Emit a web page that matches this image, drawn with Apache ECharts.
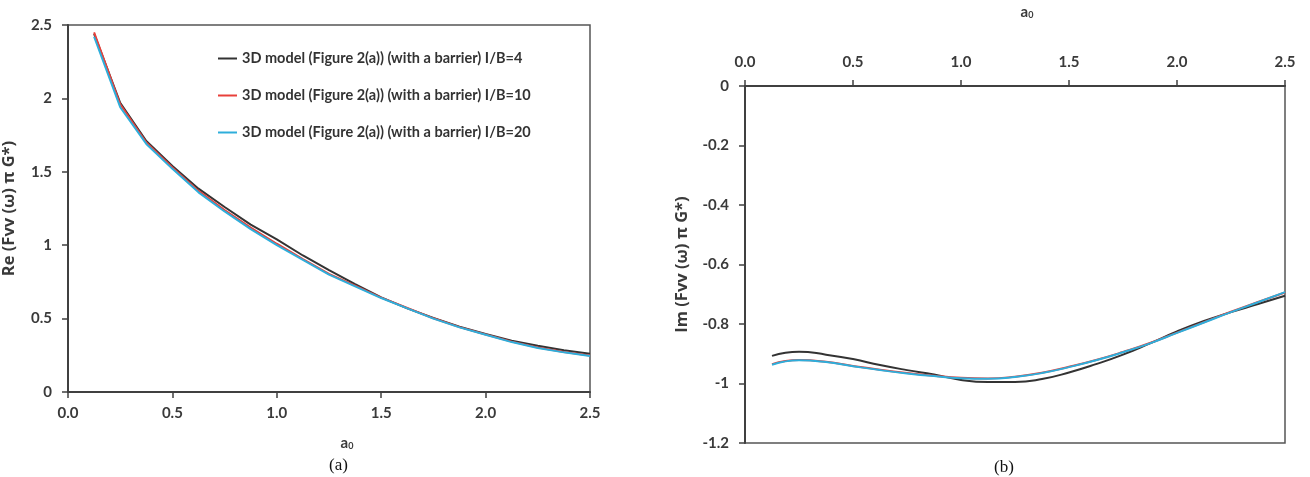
<!DOCTYPE html>
<html>
<head>
<meta charset="utf-8">
<script src="https://cdn.jsdelivr.net/npm/echarts@6/dist/echarts.min.js"></script>
<style>
  html, body { margin: 0; padding: 0; background: #fff; }
  #main { width: 1310px; height: 477px; }
</style>
</head>
<body>
<div id="main"></div>
<script>
// a0 values shared by every curve
var a0 = [0.125, 0.25, 0.375, 0.5, 0.625, 0.75, 0.875, 1.0, 1.125, 1.25,
          1.375, 1.5, 1.625, 1.75, 1.875, 2.0, 2.125, 2.25, 2.375, 2.5];

var seriesNames = [
  '3D model (Figure 2(a)) (with a barrier) I/B=4',
  '3D model (Figure 2(a)) (with a barrier) I/B=10',
  '3D model (Figure 2(a)) (with a barrier) I/B=20'
];

// (a) real part
var reB4  = [2.44, 1.97, 1.71, 1.54, 1.385, 1.26, 1.14, 1.04, 0.93, 0.83,
             0.735, 0.645, 0.57, 0.505, 0.445, 0.395, 0.35, 0.315, 0.285, 0.26];
var reB10 = [2.45, 1.96, 1.70, 1.53, 1.37, 1.24, 1.12, 1.01, 0.905, 0.805,
             0.725, 0.643, 0.572, 0.502, 0.442, 0.392, 0.343, 0.303, 0.272, 0.248];
var reB20 = [2.42, 1.94, 1.69, 1.52, 1.36, 1.23, 1.11, 1.00, 0.90, 0.80,
             0.72, 0.64, 0.57, 0.50, 0.44, 0.39, 0.34, 0.30, 0.27, 0.245];

// (b) imaginary part
var imB4  = [-0.907, -0.893, -0.903, -0.918, -0.938, -0.955, -0.97, -0.988, -0.995, -0.995,
             -0.985, -0.963, -0.935, -0.903, -0.865, -0.825, -0.79, -0.76, -0.733, -0.705];
var imB10 = [-0.935, -0.921, -0.927, -0.941, -0.954, -0.965, -0.974, -0.981, -0.983, -0.977,
             -0.964, -0.944, -0.921, -0.894, -0.864, -0.829, -0.794, -0.759, -0.726, -0.694];
var imB20 = [-0.937, -0.922, -0.928, -0.942, -0.955, -0.966, -0.975, -0.982, -0.984, -0.978,
             -0.965, -0.945, -0.922, -0.895, -0.865, -0.83, -0.795, -0.76, -0.727, -0.693];

var colors = ['#333333', '#e8403a', '#2eaedb'];

function pairs(xs, ys) {
  return xs.map(function (x, i) { return [x, ys[i]]; });
}

var font = 'Lato, "Open Sans", sans-serif';
var nameFont = '"Open Sans", Lato, sans-serif';
var axisCol = '#404040';

var axisCommon = {
  splitLine: { show: false },
  axisLine: { show: true, onZero: false, lineStyle: { color: axisCol, width: 2 } },
  axisTick: { show: true, length: 6, lineStyle: { color: axisCol, width: 1.5 } },
  axisLabel: { color: '#3a3a3a', fontFamily: font, fontWeight: 'bold', fontSize: 15 }
};

function axis(extra) {
  return echarts.util.merge(echarts.util.clone(axisCommon), extra, true);
}

var a0Name = '{a|a}{s|0}';
var a0Rich = {
  a: { fontFamily: font, fontWeight: 'bold', fontSize: 15, color: '#3a3a3a' },
  s: { fontFamily: font, fontWeight: 'bold', fontSize: 9, color: '#3a3a3a', verticalAlign: 'bottom', padding: [4, 0, 0, 0] }
};

function line(name, data, color, xi, smooth) {
  return {
    name: name,
    type: 'line',
    xAxisIndex: xi,
    yAxisIndex: xi,
    data: data,
    symbol: 'none',
    smooth: smooth,
    lineStyle: { color: color, width: 2 },
    itemStyle: { color: color }
  };
}

var option = {
  animation: false,
  title: [
    { text: '(a)', left: 324, top: 452, textStyle: { fontFamily: '"Liberation Serif", serif', fontWeight: 'normal', fontSize: 17, color: '#111' } },
    { text: '(b)', left: 989, top: 454, textStyle: { fontFamily: '"Liberation Serif", serif', fontWeight: 'normal', fontSize: 17, color: '#111' } }
  ],
  legend: {
    data: seriesNames,
    orient: 'vertical',
    left: 213,
    top: 46,
    icon: 'rect',
    itemWidth: 19,
    itemHeight: 2,
    itemGap: 22,
    textStyle: { fontFamily: font, fontWeight: 'bold', fontSize: 14.5, color: '#333' }
  },
  grid: [
    { left: 68, top: 25, right: 720, bottom: 85, show: true, borderColor: '#555', borderWidth: 1.5 },
    { left: 745, top: 83, right: 25, bottom: 34, show: true, borderColor: '#555', borderWidth: 1.5 }
  ],
  xAxis: [
    axis({
      type: 'value', gridIndex: 0, min: 0, max: 2.5, interval: 0.5,
      name: a0Name, nameLocation: 'middle', nameGap: 44,
      nameTextStyle: { rich: a0Rich, padding: [0, 0, 0, 36] },
      axisLabel: { margin: 14, formatter: function (v) { return v.toFixed(1); } }
    }),
    axis({
      type: 'value', gridIndex: 1, position: 'top', min: 0, max: 2.5, interval: 0.5,
      name: a0Name, nameLocation: 'middle', nameGap: 66,
      nameTextStyle: { rich: a0Rich, padding: [0, 0, 0, 24] },
      axisLabel: { margin: 16, formatter: function (v) { return v.toFixed(1); } }
    })
  ],
  yAxis: [
    axis({
      type: 'value', gridIndex: 0, min: 0, max: 2.5, interval: 0.5,
      name: 'Re (Fvv (ω) π G*)', nameLocation: 'middle', nameGap: 50,
      nameTextStyle: { fontFamily: nameFont, fontWeight: 'bold', fontSize: 16.5, color: '#3a3a3a' },
      axisLabel: { margin: 16 }
    }),
    axis({
      type: 'value', gridIndex: 1, min: -1.2, max: 0, interval: 0.2,
      name: 'Im (Fvv (ω) π G*)', nameLocation: 'middle', nameGap: 54,
      nameTextStyle: { fontFamily: nameFont, fontWeight: 'bold', fontSize: 16.5, color: '#3a3a3a' },
      axisLabel: { margin: 16 }
    })
  ],
  series: [
    line(seriesNames[0], pairs(a0, reB4), colors[0], 0, false),
    line(seriesNames[1], pairs(a0, reB10), colors[1], 0, false),
    line(seriesNames[2], pairs(a0, reB20), colors[2], 0, false),
    line(seriesNames[0], pairs(a0, imB4), colors[0], 1, true),
    line(seriesNames[1], pairs(a0, imB10), colors[1], 1, true),
    line(seriesNames[2], pairs(a0, imB20), colors[2], 1, true)
  ]
};

var myChart = echarts.init(document.getElementById('main'));
myChart.setOption(option, true);
</script>
</body>
</html>
